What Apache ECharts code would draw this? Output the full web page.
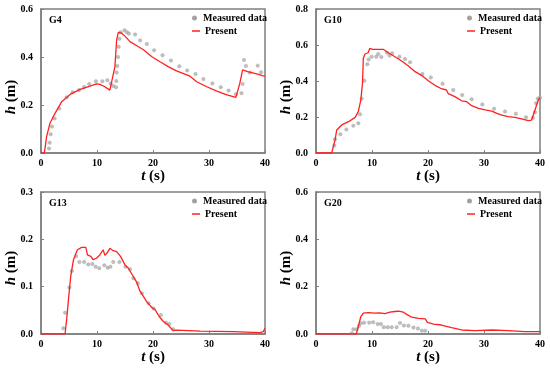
<!DOCTYPE html>
<html><head><meta charset="utf-8">
<script src="https://cdn.jsdelivr.net/npm/echarts@6/dist/echarts.min.js"></script>
<style>html,body{margin:0;padding:0;background:#fff}#c{width:550px;height:371px}</style>
</head><body><div id="c"></div>
<script>
// ---- data ----
var xTicks = [0, 10, 20, 30, 40];
var panelNames = ['G4', 'G10', 'G13', 'G20'];
var yMax = [0.6, 0.8, 0.3, 0.6];
var yStep = [0.2, 0.2, 0.1, 0.2];

var g4Measured = [[1.43,0.019],[1.55,0.043],[1.73,0.078],[1.96,0.11],[2.44,0.144],[3.27,0.185],[4.58,0.232],[5.65,0.253],[6.8,0.262],[7.7,0.275],[8.6,0.287],[9.8,0.299],[10.95,0.299],[11.85,0.303],[12.44,0.289],[12.9,0.279],[13.4,0.274],[13.45,0.3],[13.5,0.335],[13.6,0.363],[13.75,0.4],[13.87,0.443],[14.0,0.476],[14.2,0.503],[14.9,0.511],[15.36,0.503],[15.7,0.497],[16.8,0.494],[17.7,0.469],[18.9,0.454],[20.2,0.428],[21.7,0.407],[23.2,0.385],[24.7,0.361],[26.1,0.344],[27.6,0.329],[29.0,0.308],[30.6,0.29],[32.1,0.274],[33.5,0.26],[34.8,0.245],[35.8,0.249],[36.0,0.288],[36.25,0.388],[36.6,0.363],[37.3,0.335],[38.7,0.364],[39.3,0.336]];
var g4Present = [[0,0],[0.6,0],[1.0,0.068],[1.6,0.124],[2.5,0.165],[3.7,0.214],[5.2,0.244],[7.0,0.265],[8.75,0.279],[9.9,0.288],[10.5,0.286],[11.4,0.276],[12.3,0.262],[12.6,0.255],[13.2,0.36],[13.5,0.47],[13.8,0.503],[14.4,0.499],[15.0,0.487],[15.9,0.464],[17.1,0.447],[18.3,0.43],[19.8,0.401],[21.25,0.38],[22.7,0.36],[24.2,0.342],[25.7,0.329],[26.6,0.32],[27.8,0.297],[29.6,0.276],[31.4,0.258],[33.2,0.242],[34.8,0.232],[35.5,0.29],[36.0,0.346],[36.9,0.339],[38.7,0.329],[39.5,0.322],[40,0.32]];

var g10Measured = [[3.27,0.041],[3.39,0.076],[4.35,0.104],[5.42,0.131],[6.67,0.152],[7.56,0.165],[7.86,0.215],[8.15,0.302],[8.63,0.402],[9.17,0.493],[9.4,0.52],[9.94,0.535],[10.77,0.535],[11.1,0.55],[11.67,0.533],[12.7,0.557],[13.15,0.541],[13.6,0.554],[14.9,0.535],[15.9,0.522],[16.8,0.504],[19.0,0.439],[20.5,0.42],[22.6,0.385],[24.5,0.35],[26.1,0.322],[27.8,0.298],[29.7,0.27],[31.8,0.246],[33.75,0.23],[35.7,0.218],[37.5,0.198],[38.75,0.196],[39.1,0.226],[39.3,0.276],[39.6,0.302],[40,0.307]];
var g10Present = [[0,0],[2.8,0],[3.4,0.072],[3.7,0.128],[4.6,0.156],[5.8,0.174],[7.0,0.198],[7.55,0.23],[8.0,0.294],[8.3,0.387],[8.45,0.526],[8.75,0.55],[9.3,0.557],[9.6,0.581],[10.1,0.576],[10.4,0.568],[11.1,0.576],[12.0,0.576],[12.9,0.557],[14.1,0.535],[15.3,0.511],[16.5,0.483],[17.7,0.452],[18.9,0.43],[20.1,0.4],[21.25,0.376],[22.4,0.357],[23.3,0.35],[23.6,0.33],[24.8,0.313],[26.0,0.29],[26.9,0.285],[27.8,0.263],[29.0,0.248],[30.2,0.239],[31.4,0.233],[32.3,0.22],[33.2,0.211],[34.3,0.202],[35.5,0.198],[36.7,0.189],[37.9,0.18],[38.5,0.183],[39.1,0.239],[39.7,0.294],[40,0.307]];

var g13Measured = [[4.0,0.012],[4.3,0.045],[5.06,0.098],[5.5,0.133],[6.25,0.164],[6.85,0.152],[7.7,0.152],[8.45,0.147],[9.17,0.148],[9.76,0.142],[10.4,0.139],[11.3,0.145],[11.9,0.14],[12.4,0.142],[12.9,0.152],[14.0,0.152],[15.1,0.142],[15.9,0.137],[16.5,0.118],[17.3,0.107],[18.0,0.086],[19.2,0.065],[20.1,0.054],[21.4,0.04],[22.3,0.024],[22.9,0.021],[23.6,0.01]];
var g13Present = [[0,0],[4.3,0],[4.6,0.033],[4.9,0.072],[5.3,0.121],[5.8,0.157],[6.5,0.178],[7.26,0.183],[8.0,0.183],[8.3,0.167],[8.9,0.164],[9.3,0.157],[9.9,0.16],[10.5,0.167],[11.1,0.178],[11.4,0.166],[11.8,0.171],[12.3,0.181],[12.9,0.176],[13.5,0.174],[14.2,0.164],[15.0,0.146],[15.6,0.139],[16.4,0.123],[17.1,0.109],[17.7,0.09],[18.15,0.082],[18.9,0.068],[19.8,0.056],[20.4,0.051],[21.1,0.037],[21.8,0.027],[22.7,0.019],[23.6,0.007],[24.2,0.008],[28.4,0.006],[34.3,0.005],[39.1,0.003],[39.7,0.005],[40,0.012]];

var g20Measured = [[6.4,0.003],[6.67,0.02],[7.26,0.02],[7.68,0.034],[8.0,0.045],[8.6,0.048],[9.5,0.048],[10.2,0.05],[11.0,0.042],[11.6,0.042],[12.1,0.029],[12.8,0.029],[13.5,0.029],[14.4,0.029],[15.0,0.046],[15.7,0.036],[16.5,0.035],[17.4,0.027],[18.2,0.023],[18.9,0.014],[19.5,0.014]];
var g20Present = [[0,0],[7.2,0],[8.0,0.073],[8.45,0.088],[9.3,0.09],[10.5,0.088],[11.4,0.089],[12.3,0.086],[13.2,0.092],[14.1,0.095],[14.7,0.097],[15.6,0.092],[16.2,0.083],[17.1,0.071],[18.3,0.066],[19.5,0.064],[19.9,0.049],[21.0,0.042],[22.4,0.038],[24.2,0.027],[26.0,0.017],[28.4,0.014],[31.4,0.017],[34.3,0.014],[37.3,0.01],[40,0.01]];

var measured = [g4Measured, g10Measured, g13Measured, g20Measured];
var present = [g4Present, g10Present, g13Present, g20Present];

// ---- layout ----
var FONT = '"Liberation Serif", "Times New Roman", serif';
var AX = '#7f7f7f';
var grids = [
  {left: 41, top: 9, width: 224, height: 144},
  {left: 316, top: 9, width: 224, height: 144},
  {left: 41, top: 192, width: 224, height: 142},
  {left: 316, top: 192, width: 224, height: 142}
];
var option = {
  animation: false,
  backgroundColor: '#fff',
  grid: [], xAxis: [], yAxis: [], series: [], legend: [], graphic: []
};
grids.forEach(function (g, i) {
  option.grid.push({left: g.left, top: g.top, width: g.width, height: g.height,
    show: true, borderColor: AX, borderWidth: 1.5, backgroundColor: 'transparent'});
  option.xAxis.push({type: 'value', gridIndex: i, min: xTicks[0], max: xTicks[xTicks.length - 1], interval: 10,
    axisLine: {show: true, lineStyle: {color: AX, width: 1.5}},
    axisTick: {show: true, inside: true, length: 3, lineStyle: {color: AX}},
    splitLine: {show: false},
    axisLabel: {color: '#000', fontFamily: FONT, fontWeight: 'bold', fontSize: 10, margin: 5}});
  option.yAxis.push({type: 'value', gridIndex: i, min: 0, max: yMax[i], interval: yStep[i],
    axisLine: {show: true, lineStyle: {color: AX, width: 1.5}},
    axisTick: {show: true, inside: true, length: 3, lineStyle: {color: AX}},
    splitLine: {show: false},
    axisLabel: {color: '#000', fontFamily: FONT, fontWeight: 'bold', fontSize: 10, margin: 8,
      formatter: function (v) { return v.toFixed(1); }}});
  option.series.push({type: 'scatter', name: 'Measured data', xAxisIndex: i, yAxisIndex: i,
    data: measured[i], symbol: 'circle', symbolSize: 3.5,
    itemStyle: {color: '#b0b0b0', borderColor: '#909090', borderWidth: 0.4}});
  option.series.push({type: 'line', name: 'Present', xAxisIndex: i, yAxisIndex: i,
    data: present[i], showSymbol: false, symbol: 'none',
    lineStyle: {color: '#ff2020', width: 1.3}, itemStyle: {color: '#ff2020'}});
  var lx = g.left + g.width - 73, ly = g.top + 4;
  option.legend.push({left: lx, top: ly, orient: 'vertical', selectedMode: false,
    data: [{name: 'Measured data', icon: 'circle'}], itemWidth: 7, itemHeight: 3, padding: 0,
    textStyle: {fontFamily: FONT, fontWeight: 'bold', fontSize: 10, color: '#000'}});
  option.legend.push({left: lx, top: ly + 13, orient: 'vertical', selectedMode: false,
    data: [{name: 'Present', icon: 'rect'}], itemWidth: 8, itemHeight: 1.5, padding: 0,
    textStyle: {fontFamily: FONT, fontWeight: 'bold', fontSize: 10, color: '#000'}});
  option.graphic.push({type: 'text', left: g.left + 8, top: g.top + 6,
    style: {text: panelNames[i], font: 'bold 10px ' + FONT, fill: '#000'}});
  option.graphic.push({type: 'text', x: g.left + g.width / 2, y: g.top + g.height + 23,
    style: {text: '{i|t} (s)', align: 'center', verticalAlign: 'middle',
      font: 'bold 15px ' + FONT, fill: '#000',
      rich: {i: {fontStyle: 'italic', fontWeight: 'bold', fontSize: 15, fontFamily: FONT}}}});
  option.graphic.push({type: 'text', x: g.left - 30, y: (i < 2 ? 97 : 268), rotation: Math.PI / 2,
    style: {text: '{i|h} (m)', align: 'center', verticalAlign: 'middle',
      font: 'bold 15px ' + FONT, fill: '#000',
      rich: {i: {fontStyle: 'italic', fontWeight: 'bold', fontSize: 15, fontFamily: FONT}}}});
});
var chart = echarts.init(document.getElementById('c'), null, {renderer: 'canvas'});
chart.setOption(option);
</script></body></html>
